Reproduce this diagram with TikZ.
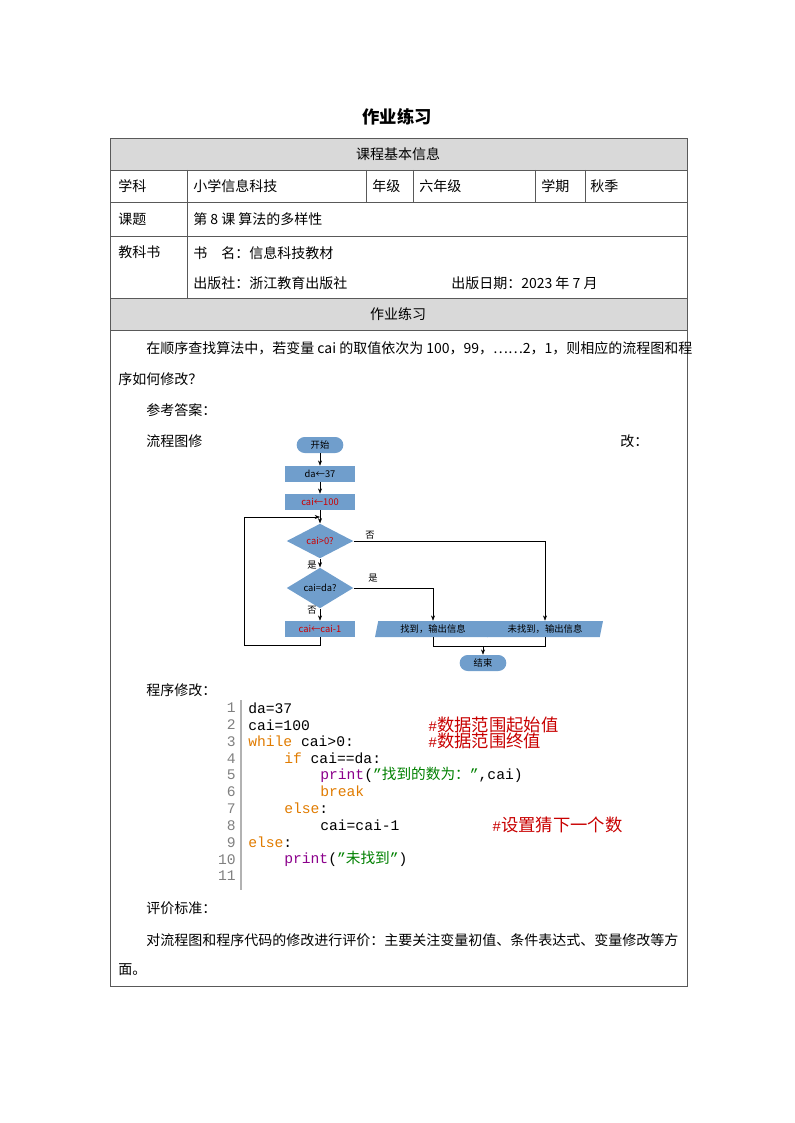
\documentclass[tikz,border=0pt]{standalone}
\usepackage{fontspec}
\setmainfont{Noto Sans CJK SC}
\setmonofont{Liberation Mono}
\newfontfamily\cjk{Noto Sans CJK SC}
\usetikzlibrary{shapes.geometric,arrows.meta}
\definecolor{fcblue}{RGB}{112,158,204}
\definecolor{hdgray}{RGB}{217,217,217}
\definecolor{kwor}{RGB}{224,123,0}
\definecolor{fnpu}{RGB}{139,0,139}
\definecolor{strgr}{RGB}{0,128,0}
\definecolor{cmred}{RGB}{200,0,0}
\tikzset{
  txt/.style={anchor=west, inner sep=0pt, font=\fontsize{10.5pt}{12pt}\selectfont},
  term/.style={rounded corners=6pt, fill=fcblue, minimum width=35pt, minimum height=12pt, inner sep=0pt, font=\fontsize{7pt}{8pt}\selectfont},
  proc/.style={fill=fcblue, minimum width=52pt, minimum height=12pt, inner sep=0pt, font=\fontsize{7pt}{8pt}\selectfont},
  dec/.style={diamond, fill=fcblue, minimum width=50pt, minimum height=23pt, inner sep=0pt, font=\fontsize{7pt}{8pt}\selectfont},
  io/.style={trapezium, trapezium left angle=70, trapezium right angle=110, trapezium stretches body, fill=fcblue, minimum width=87pt, minimum height=12pt, inner sep=0pt, font=\fontsize{7pt}{8pt}\selectfont},
  lbl/.style={inner sep=0pt, font=\fontsize{7pt}{8pt}\selectfont},
  arr/.style={-{Stealth[length=4pt,width=3pt]}},
  code/.style={anchor=west, inner sep=0pt, font=\fontsize{11pt}{12pt}\ttfamily},
  lnum/.style={anchor=east, inner sep=0pt, text=gray, font=\fontsize{11pt}{12pt}\ttfamily},
}
\begin{document}
\begin{tikzpicture}[x=0.75pt, y=-0.75pt]
  \useasboundingbox (0,0) rectangle (794,1123);

  % title
  \node[font=\fontsize{13pt}{14pt}\selectfont\bfseries] (title) at (397,117) {作业练习};

  % table
  \fill[hdgray] (110,138) rectangle (687,170);
  \fill[hdgray] (110,298) rectangle (687,330);
  \draw[gray!70!black] (110,138) rectangle (687,986);
  \foreach \y in {170,202,236,298,330} \draw[gray!70!black] (110,\y) -- (687,\y);
  \foreach \x in {366,413,535,585} \draw[gray!70!black] (\x,170) -- (\x,202);
  \draw[gray!70!black] (187,170) -- (187,298);

  \node[txt, anchor=center] (h1) at (398,154) {课程基本信息};
  \node[txt] (c1) at (118,186) {学科};
  \node[txt] (c2) at (193,186) {小学信息科技};
  \node[txt] (c3) at (372,186) {年级};
  \node[txt] (c4) at (419,186) {六年级};
  \node[txt] (c5) at (541,186) {学期};
  \node[txt] (c6) at (590,186) {秋季};
  \node[txt] (c7) at (118,219) {课题};
  \node[txt] (c8) at (193,219) {第 8 课\ 算法的多样性};
  \node[txt] (c9) at (118,252) {教科书};
  \node[txt] (c10) at (193,253) {书\quad 名：信息科技教材};
  \node[txt] (c11) at (193,283) {出版社：浙江教育出版社};
  \node[txt] (c12) at (451,283) {出版日期：2023 年 7 月};
  \node[txt, anchor=center] (h2) at (398,314) {作业练习};

  % body text
  \node[txt] (p1) at (146,348) {在顺序查找算法中，若变量 cai 的取值依次为 100，99，……2，1，则相应的流程图和程};
  \node[txt] (p2) at (118,379) {序如何修改？};
  \node[txt] (p3) at (146,410) {参考答案：};
  \node[txt] (p4) at (146,441) {流程图修};
  \node[txt] (p5) at (620,441) {改：};
  \node[txt] (p6) at (146,690) {程序修改：};
  \node[txt] (p7) at (146,908) {评价标准：};
  \node[txt] (p8) at (146,940) {对流程图和程序代码的修改进行评价：主要关注变量初值、条件表达式、变量修改等方};
  \node[txt] (p9) at (118,970) {面。};

  % flowchart
  \node[term] (start) at (320,445) {开始};
  \node[proc] (da) at (320,474) {da←37};
  \node[proc, text=red!80!black] (cai) at (320,502) {cai←100};
  \node[dec, text=red!80!black] (dA) at (320,541) {cai>0?};
  \node[dec] (dB) at (320,588) {cai=da?};
  \node[proc, text=red!80!black] (dec1) at (320,629) {cai←cai-1};
  \node[io] (fd) at (433,629) {找到，输出信息};
  \node[io] (nf) at (545,629) {未找到，输出信息};
  \node[term] (stop) at (483,663) {结束};
  \coordinate (lpb) at (244,645);
  \coordinate (lpt) at (244,517);
  \coordinate (jn) at (320,517);
  \coordinate (mg) at (483,646);

  \draw[arr] (start) -- (da);
  \draw[arr] (da) -- (cai);
  \draw[arr] (cai) -- (dA);
  \draw[arr] (dA) -- (dB);
  \draw[arr] (dB) -- (dec1);
  \draw[arr] (dec1.south) |- (lpb) -- (lpt) -- (jn);
  \draw[arr] (dA.east) -| (nf.north);
  \draw[arr] (dB.east) -| (fd.north);
  \draw (fd.south) |- (mg);
  \draw (nf.south) |- (mg);
  \draw[arr] (mg) -- (stop);

  \node[lbl] (l1) at (370,535) {否};
  \node[lbl] (l2) at (312,565) {是};
  \node[lbl] (l3) at (373,578) {是};
  \node[lbl] (l4) at (312,610) {否};

  % code
  \draw[gray!60, line width=1pt] (241,700) -- (241,890);
  \foreach \n [count=\i from 0] in {1,...,11}
    \node[lnum] (n\n) at (236,708+\i*16.8) {\n};
  \node[code] (k1) at (248,708) {da=37};
  \node[code] (k2) at (248,725) {cai=100};
  \node[code] (k3) at (248,741) {\textcolor{kwor}{while} cai>0:};
  \node[code] (k4) at (284,758) {\textcolor{kwor}{if} cai==da:};
  \node[code] (k5) at (320,775) {\textcolor{fnpu}{print}(\textcolor{strgr}{”{\cjk 找到的数为：}”},cai)};
  \node[code] (k6) at (320,791) {\textcolor{kwor}{break}};
  \node[code] (k7) at (284,808) {\textcolor{kwor}{else}:};
  \node[code] (k8) at (320,825) {cai=cai-1};
  \node[code] (k9) at (248,842) {\textcolor{kwor}{else}:};
  \node[code] (k10) at (284,859) {\textcolor{fnpu}{print}(\textcolor{strgr}{”{\cjk 未找到}”})};
  \node[code, text=cmred] (m1) at (428,725) {\#{\cjk\fontsize{13pt}{14pt}\selectfont 数据范围起始值}};
  \node[code, text=cmred] (m2) at (428,741) {\#{\cjk\fontsize{13pt}{14pt}\selectfont 数据范围终值}};
  \node[code, text=cmred] (m3) at (492,825) {\#{\cjk\fontsize{13pt}{14pt}\selectfont 设置猜下一个数}};
\end{tikzpicture}
\end{document}
